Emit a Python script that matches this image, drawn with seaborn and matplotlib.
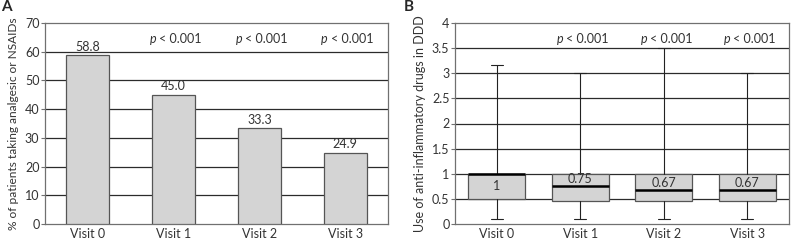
import seaborn as sns
import matplotlib.pyplot as plt
import pandas as pd

# panel A: % of patients taking analgesic or NSAIDs
visits = ['Visit 0', 'Visit 1', 'Visit 2', 'Visit 3']
pct_patients = [58.8, 45.0, 33.3, 24.9]
pct_labels = ['58.8', '45.0', '33.3', '24.9']
p_labels = ['', 'p < 0.001', 'p < 0.001', 'p < 0.001']

# panel B: DDD box stats
ddd_low = [0.1, 0.1, 0.1, 0.1]
ddd_q1 = [0.5, 0.46, 0.46, 0.46]
ddd_med = [1.0, 0.75, 0.67, 0.67]
ddd_q3 = [1.0, 1.0, 1.0, 1.0]
ddd_high = [3.17, 3.0, 3.5, 3.0]
med_labels = ['1', '0.75', '0.67', '0.67']

sns.set_style('white')
plt.rcParams['font.family'] = ['Lato', 'DejaVu Sans']

fig = plt.figure(figsize=(7.95, 2.4), dpi=100)
axA = fig.add_axes([45 / 795, 16 / 240, 343 / 795, 201 / 240])
axB = fig.add_axes([455 / 795, 16 / 240, 334 / 795, 201 / 240])

grid_c = '#2b2b2b'
spine_c = '#707070'
txt_c = '#333333'
fs = 9

df = pd.DataFrame({'visit': visits, 'pct': pct_patients})
sns.barplot(data=df, x='visit', y='pct', ax=axA, color='#d4d4d4', width=0.5,
            edgecolor='#555555', linewidth=0.9, saturation=1, zorder=3)
axA.set_ylim(0, 70)
axA.set_yticks(range(0, 71, 10))
axA.set_xlim(-0.5, 3.5)
for y in range(10, 70, 10):
    axA.axhline(y, color=grid_c, lw=0.9, zorder=1)
for i, v in enumerate(pct_patients):
    axA.text(i, v + 0.8, pct_labels[i], ha='center', va='bottom', fontsize=fs, color=txt_c, zorder=4)
    if p_labels[i]:
        axA.text(i - 0.2, 64.5, 'p', style='italic', ha='right', va='center', fontsize=fs, color=txt_c)
        axA.text(i - 0.17, 64.5, '< 0.001', ha='left', va='center', fontsize=fs, color=txt_c)
axA.set_xlabel('')
axA.set_ylabel('% of patients taking analgesic or NSAIDs', fontsize=8.6, color=txt_c, labelpad=4)

stats = []
for i in range(len(visits)):
    stats.append({'whislo': ddd_low[i], 'q1': ddd_q1[i], 'med': ddd_med[i],
                  'q3': ddd_q3[i], 'whishi': ddd_high[i], 'fliers': []})
axB.bxp(stats, positions=range(len(visits)), widths=0.68, patch_artist=True,
        boxprops=dict(facecolor='#d4d4d4', edgecolor='#555555', linewidth=0.9),
        medianprops=dict(color='black', linewidth=1.8),
        whiskerprops=dict(color='#222222', linewidth=0.8),
        capprops=dict(color='#222222', linewidth=0.8), capwidths=0.14,
        zorder=3)
axB.set_ylim(0, 4)
axB.set_yticks([0, 0.5, 1, 1.5, 2, 2.5, 3, 3.5, 4])
axB.set_yticklabels(['0', '0.5', '1', '1.5', '2', '2.5', '3', '3.5', '4'])
axB.set_xlim(-0.5, 3.5)
axB.set_xticks(range(len(visits)))
axB.set_xticklabels(visits)
for y in [0.5, 1, 1.5, 2, 2.5, 3, 3.5]:
    axB.axhline(y, color=grid_c, lw=0.9, zorder=1)
for i in range(len(visits)):
    if i == 0:
        axB.text(i, 0.75, med_labels[i], ha='center', va='center', fontsize=fs, color=txt_c, zorder=4)
    else:
        axB.text(i, ddd_med[i] + 0.02, med_labels[i], ha='center', va='bottom', fontsize=fs, color=txt_c, zorder=4)
    if p_labels[i]:
        axB.text(i - 0.2, 3.69, 'p', style='italic', ha='right', va='center', fontsize=fs, color=txt_c)
        axB.text(i - 0.17, 3.69, '< 0.001', ha='left', va='center', fontsize=fs, color=txt_c)
axB.set_ylabel('Use of anti-inflammatory drugs in DDD', fontsize=fs, color=txt_c, labelpad=4)

for ax in (axA, axB):
    for s in ax.spines.values():
        s.set_color(spine_c)
        s.set_linewidth(0.9)
    ax.tick_params(axis='both', labelsize=fs, colors=txt_c, length=3, width=0.8,
                   left=True, bottom=False, pad=1)
    ax.tick_params(axis='y', color=spine_c)
    ax.tick_params(axis='x', pad=0)

fig.text(1 / 795, 1 - 7 / 240, 'A', fontsize=11, fontweight='bold', va='center')
fig.text(404 / 795, 1 - 7 / 240, 'B', fontsize=11, fontweight='bold', va='center')

fig.savefig('out.png', dpi=100)
